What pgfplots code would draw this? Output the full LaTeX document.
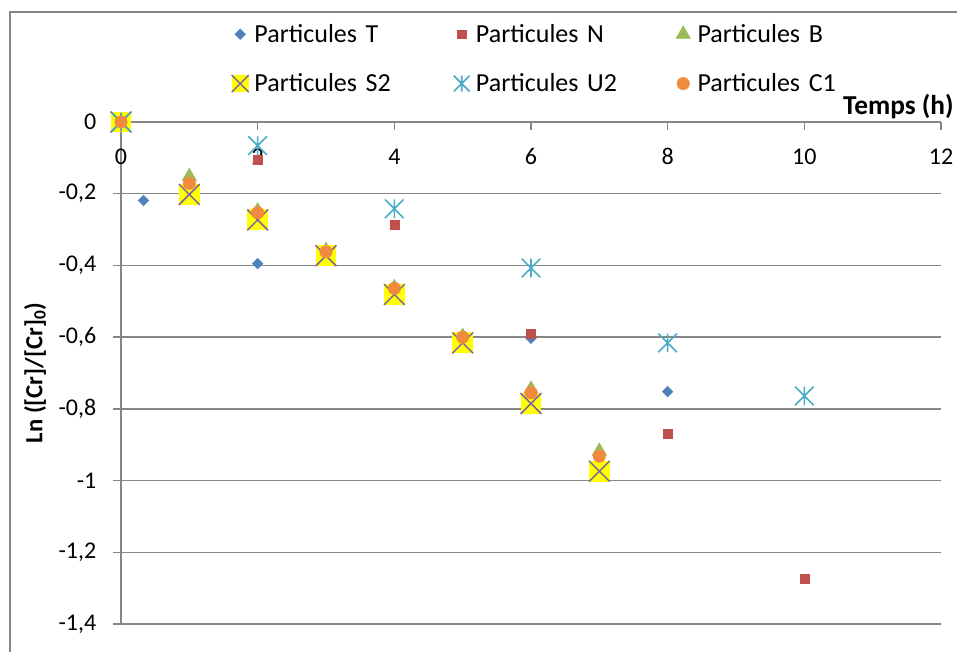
\documentclass[border=0pt]{standalone}
\usepackage{fontspec}
\setmainfont{Carlito}
\usepackage{pgfplots}
\pgfplotsset{compat=1.18}
\definecolor{cT}{HTML}{4F81BD}
\definecolor{cN}{HTML}{C0504D}
\definecolor{cB}{HTML}{9BBB59}
\definecolor{cS}{HTML}{7F64A2}
\definecolor{cY}{HTML}{FFFF00}
\definecolor{cU}{HTML}{4BACC6}
\definecolor{cC}{HTML}{F08A3E}
\definecolor{gridgray}{HTML}{868686}

\pgfdeclareplotmark{sqx}{%
  \pgfpathrectangle{\pgfqpoint{-\pgfplotmarksize}{-\pgfplotmarksize}}{\pgfqpoint{2\pgfplotmarksize}{2\pgfplotmarksize}}%
  \pgfusepathqfill
  \pgfpathmoveto{\pgfqpoint{-\pgfplotmarksize}{-\pgfplotmarksize}}%
  \pgfpathlineto{\pgfqpoint{\pgfplotmarksize}{\pgfplotmarksize}}%
  \pgfpathmoveto{\pgfqpoint{-\pgfplotmarksize}{\pgfplotmarksize}}%
  \pgfpathlineto{\pgfqpoint{\pgfplotmarksize}{-\pgfplotmarksize}}%
  \pgfusepathqstroke
}
\pgfdeclareplotmark{xstar}{%
  \pgfpathmoveto{\pgfqpoint{0pt}{\pgfplotmarksize}}%
  \pgfpathlineto{\pgfqpoint{0pt}{-\pgfplotmarksize}}%
  \pgfpathmoveto{\pgfqpoint{-\pgfplotmarksize}{-\pgfplotmarksize}}%
  \pgfpathlineto{\pgfqpoint{\pgfplotmarksize}{\pgfplotmarksize}}%
  \pgfpathmoveto{\pgfqpoint{-\pgfplotmarksize}{\pgfplotmarksize}}%
  \pgfpathlineto{\pgfqpoint{\pgfplotmarksize}{-\pgfplotmarksize}}%
  \pgfusepathqstroke
}
\pgfdeclareplotmark{sqdia}{%
  \pgfpathmoveto{\pgfqpoint{0pt}{\pgfplotmarksize}}%
  \pgfpathlineto{\pgfqpoint{\pgfplotmarksize}{0pt}}%
  \pgfpathlineto{\pgfqpoint{0pt}{-\pgfplotmarksize}}%
  \pgfpathlineto{\pgfqpoint{-\pgfplotmarksize}{0pt}}%
  \pgfpathclose
  \pgfusepathqfillstroke
}

\pgfplotstableread{
x y
0 0
0.33 -0.219
2 -0.395
4 -0.496
6 -0.603
8 -0.752
}\dataT
\pgfplotstableread{
x y
0 0
2 -0.106
4 -0.287
6 -0.590
8 -0.869
10 -1.274
}\dataN
\pgfplotstableread{
x y
0 0
1 -0.152
2 -0.248
3 -0.358
4 -0.462
5 -0.598
6 -0.745
7 -0.918
}\dataB
\pgfplotstableread{
x y
0 0
1 -0.202
2 -0.273
3 -0.373
4 -0.481
5 -0.616
6 -0.785
7 -0.974
}\dataS
\pgfplotstableread{
x y
0 0
2 -0.066
4 -0.242
6 -0.407
8 -0.616
10 -0.764
}\dataU
\pgfplotstableread{
x y
0 0
1 -0.171
2 -0.253
3 -0.362
4 -0.464
5 -0.600
6 -0.755
7 -0.932
}\dataC

\begin{document}
\begin{tikzpicture}
\useasboundingbox (-90.75pt,-20.25pt) rectangle (627pt,468pt);
\begin{axis}[
  at={(0pt,0pt)}, anchor=south west,
  scale only axis, width=615pt, height=376.5pt,
  xmin=0, xmax=12, ymin=-1.4, ymax=0,
  xtick={0,2,4,6,8,10,12},
  ytick={-1.4,-1.2,-1,-0.8,-0.6,-0.4,-0.2,0},
  axis x line*=top, axis y line*=left,
  axis line style={draw=gridgray, line width=1.1pt},
  xtick align=inside, ytick align=outside,
  major tick length=6pt,
  tick style={draw=gridgray, line width=1.1pt},
  ymajorgrids,
  major grid style={draw=gridgray, line width=1.1pt},
  /pgf/number format/.cd, use comma, 1000 sep={}, assume math mode=true,
  /pgfplots/.cd,
  tick label style={font=\fontsize{18}{21}\selectfont},
  xticklabel style={anchor=base, yshift=-32pt},
  yticklabel shift=9pt,
  xlabel={Temps (h)},
  every axis x label/.style={at={(axis description cs:1,1)}, anchor=base east, xshift=13pt, yshift=5.5pt, font=\fontsize{20.5}{24}\selectfont\bfseries},
  ylabel={Ln ([Cr]/[Cr]\textsubscript{0})},
  every axis y label/.style={at={(axis description cs:-0.1049,0.5)}, rotate=90, anchor=center, font=\fontsize{18.5}{22}\selectfont\bfseries},
  legend columns=3,
  legend cell align=left,
  legend image code/.code={\draw[#1] plot coordinates {(0pt,0pt)}; \path (-8.5pt,-1pt) (8.5pt,1pt);},
  legend style={draw=none, fill=none, at={(axis description cs:0.126,1.206)}, anchor=north west,
    font=\fontsize{19.5}{23}\selectfont,
    nodes={inner xsep=2pt, text width=140pt, align=left},
    row sep=18pt,
    /tikz/every even column/.append style={column sep=4.75pt}},
  clip=false,
]
\addplot[only marks, mark=sqdia, mark size=4pt, color=cT, mark options={line width=0.3pt, fill=cT}] table {\dataT};
\addlegendentry{Particules T}
\addplot[only marks, mark=square*, mark size=3.3pt, color=cN, mark options={line width=0.3pt, fill=cN}] table {\dataN};
\addlegendentry{Particules N}
\addplot[only marks, mark=triangle*, mark size=6.3pt, color=cB, mark options={line width=0.3pt, fill=cB}] table {\dataB};
\addlegendentry{Particules B}
\addplot[only marks, mark=sqx, mark size=7.8pt, color=cS, mark options={line width=1.1pt, fill=cY},
  legend image post style={/tikz/every mark/.append style={scale=0.82}}] table {\dataS};
\addlegendentry{Particules S2}
\addplot[only marks, mark=xstar, mark size=7pt, color=cU, mark options={line width=1.2pt},
  legend image post style={/tikz/every mark/.append style={scale=0.85}}] table {\dataU};
\addlegendentry{Particules U2}
\addplot[only marks, mark=*, mark size=4.7pt, color=cC, mark options={line width=0.3pt, fill=cC}] table {\dataC};
\addlegendentry{Particules C1}
\end{axis}
\draw[gridgray, line width=1.1pt] (-83.25pt,-40pt) -- (-83.25pt,459pt) -- (650pt,459pt);
\end{tikzpicture}
\end{document}
